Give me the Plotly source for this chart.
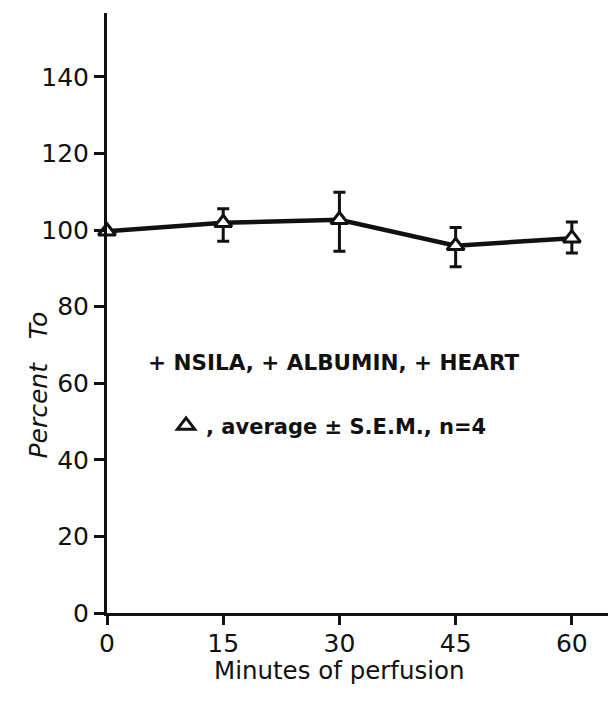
import plotly.graph_objects as go

minutes = [0, 15, 30, 45, 60]
percent_to = [99.7, 101.9, 102.7, 95.9, 97.9]
sem_plus = [0, 3.7, 7.2, 4.8, 4.2]
sem_minus = [0, 4.8, 8.2, 5.5, 3.9]
x_ticks = [0, 15, 30, 45, 60]
y_ticks = [0, 20, 40, 60, 80, 100, 120, 140]

FONT = "DejaVu Sans"
BLACK = "#111111"

fig = go.Figure()
fig.add_trace(go.Scatter(
    x=minutes, y=percent_to, mode="lines+markers",
    line=dict(color=BLACK, width=4.5),
    marker=dict(symbol="triangle-up", size=15, color="white",
                line=dict(color=BLACK, width=3)),
    error_y=dict(type="data", symmetric=False, array=sem_plus, arrayminus=sem_minus,
                 color=BLACK, thickness=3, width=6),
    showlegend=False, cliponaxis=False,
))
# legend key
fig.add_trace(go.Scatter(
    x=[None], y=[None], mode="markers",
    marker=dict(symbol="triangle-up", size=15, color="white",
                line=dict(color=BLACK, width=3)),
    name=", average \u00b1 S.E.M., n=4", showlegend=True,
))

fig.update_layout(
    width=608, height=693,
    margin=dict(l=99, r=0, t=5, b=88),
    paper_bgcolor="white", plot_bgcolor="white",
    font=dict(family=FONT, color=BLACK, size=24),
    xaxis=dict(range=[0, 65.7], tickvals=x_ticks, ticktext=[str(v) for v in x_ticks],
               showgrid=False, zeroline=False, showline=True, linecolor=BLACK, linewidth=3,
               ticks="outside", ticklen=9, tickwidth=2.5, tickcolor=BLACK,
               tickfont=dict(size=25), ticklabelstandoff=-3),
    yaxis=dict(range=[0, 156.7], tickvals=y_ticks, ticktext=[str(v) for v in y_ticks],
               showgrid=False, zeroline=False, showline=True, linecolor=BLACK, linewidth=3,
               ticks="outside", ticklen=10, tickwidth=2.5, tickcolor=BLACK,
               tickfont=dict(size=25)),
    legend=dict(x=0.116, y=0.312, xanchor="left", yanchor="middle",
                bgcolor="rgba(0,0,0,0)",
                font=dict(family=FONT, size=21, weight="bold", color=BLACK)),
    annotations=[
        dict(text="+ NSILA, + ALBUMIN, + HEART", x=29.3, y=65.3, xref="x", yref="y",
             showarrow=False, font=dict(family=FONT, size=21.5, weight="bold", color=BLACK)),
        dict(text="<i>Percent   To</i>", x=-0.167, y=0.38, xref="paper", yref="paper",
             textangle=-90, showarrow=False, font=dict(family=FONT, size=25, color=BLACK)),
        dict(text="Minutes of perfusion", x=30, y=-0.123, xref="x", yref="paper",
             showarrow=False, font=dict(family=FONT, size=24.5, color=BLACK)),
    ],
)

fig.write_html("out.html")
